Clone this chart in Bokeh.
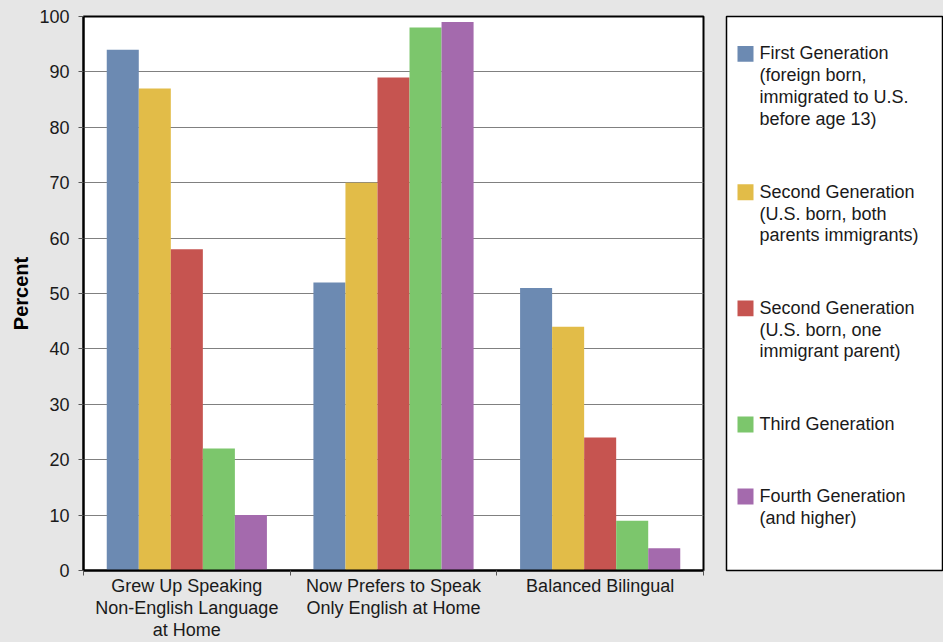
from bokeh.plotting import figure
from bokeh.layouts import row
from bokeh.models import Range1d, FixedTicker, SingleIntervalTicker, ColumnDataSource
from bokeh.core.properties import value
from bokeh.embed import file_html
from bokeh.resources import INLINE

# Language use by immigrant generation (percent)
categories = [
    "Grew Up Speaking\nNon-English Language\nat Home",
    "Now Prefers to Speak\nOnly English at Home",
    "Balanced Bilingual",
]
series = [
    "First Generation\n(foreign born,\nimmigrated to U.S.\nbefore age 13)",
    "Second Generation\n(U.S. born, both\nparents immigrants)",
    "Second Generation\n(U.S. born, one\nimmigrant parent)",
    "Third Generation",
    "Fourth Generation\n(and higher)",
]
first_gen = [94, 52, 51]
second_gen_both = [87, 70, 44]
second_gen_one = [58, 89, 24]
third_gen = [22, 98, 9]
fourth_gen = [10, 99, 4]
values = [first_gen, second_gen_both, second_gen_one, third_gen, fourth_gen]
colors = ["#6c8ab2", "#e2bc48", "#c65450", "#7cc66c", "#a46aad"]

FONT = "Liberation Sans"
BG = "#e6e6e6"
TEXT = "#1a1a1a"
bar_w = 0.155

p = figure(width=715, height=642, x_range=Range1d(0, len(categories)),
           y_range=Range1d(0, 100), output_backend="svg", toolbar_location=None,
           min_border=0, min_border_left=83, min_border_right=12,
           min_border_top=16, min_border_bottom=71)
p.border_fill_color = BG
p.background_fill_color = "white"
p.outline_line_color = "black"
p.outline_line_width = 2

n = len(series)
for j, (vals, col) in enumerate(zip(values, colors)):
    xs = [i + 0.5 + (j - (n - 1) / 2) * bar_w for i in range(len(categories))]
    src = ColumnDataSource(dict(x=xs, top=vals))
    p.vbar(x="x", top="top", bottom=0, width=bar_w, source=src,
           fill_color=col, line_color=None)

# y axis
p.yaxis.ticker = SingleIntervalTicker(interval=10)
p.yaxis.axis_label = "Percent"
p.yaxis.axis_label_text_font = FONT
p.yaxis.axis_label_text_font_size = "20px"
p.yaxis.axis_label_text_font_style = "bold"
p.yaxis.axis_label_text_color = "black"
p.yaxis.axis_label_standoff = 4
p.yaxis.major_label_text_font = FONT
p.yaxis.major_label_text_font_size = "18px"
p.yaxis.major_label_text_color = TEXT
p.yaxis.major_label_standoff = 9
p.yaxis.major_tick_out = 5
p.yaxis.major_tick_in = 0
p.yaxis.major_tick_line_color = "#555555"
p.yaxis.minor_tick_line_color = None
p.yaxis.axis_line_color = "black"
p.yaxis.axis_line_width = 2

# x axis: labels centred on groups, tick marks on group boundaries
centers = [i + 0.5 for i in range(len(categories))]
bounds = [float(i) for i in range(len(categories) + 1)]
p.xaxis.ticker = FixedTicker(ticks=centers, minor_ticks=bounds)
p.xaxis.major_label_overrides = {c: lab for c, lab in zip(centers, categories)}
p.xaxis.major_label_text_font = FONT
p.xaxis.major_label_text_font_size = "18px"
p.xaxis.major_label_text_color = TEXT
p.xaxis.major_label_text_line_height = 1.1
p.xaxis.major_label_standoff = 0
p.xaxis.major_tick_out = 0
p.xaxis.major_tick_in = 0
p.xaxis.minor_tick_out = 5
p.xaxis.minor_tick_in = 0
p.xaxis.minor_tick_line_color = "#555555"
p.xaxis.axis_line_color = "black"
p.xaxis.axis_line_width = 2

p.xgrid.grid_line_color = None
p.ygrid.grid_line_color = "#808080"
p.ygrid.grid_line_width = 1

# Legend panel
leg = figure(width=228, height=642, x_range=Range1d(0, 217), y_range=Range1d(556, 0),
             output_backend="svg", toolbar_location=None,
             x_axis_location=None, y_axis_location=None,
             min_border=0, min_border_left=11, min_border_right=0,
             min_border_top=16, min_border_bottom=70)
leg.border_fill_color = BG
leg.background_fill_color = "white"
leg.outline_line_color = "black"
leg.outline_line_width = 1.5
leg.grid.grid_line_color = None

line_h = 22.2
gap = 50
tops = []
y = 27
for s in series:
    tops.append(y)
    y += s.count("\n") * line_h + line_h + gap

leg.rect(x=[19] * n, y=[t + 10.5 for t in tops], width=16, height=16,
         fill_color=colors, line_color=None)
leg.text(x=[33] * n, y=tops, text=series, text_font=value(FONT),
         text_font_size="18px", text_color=TEXT, text_baseline="top",
         text_align="left", text_line_height=1.09)

layout = row(p, leg)
layout.styles = {"background-color": BG}
open("out.html", "w").write(file_html(layout, INLINE))
